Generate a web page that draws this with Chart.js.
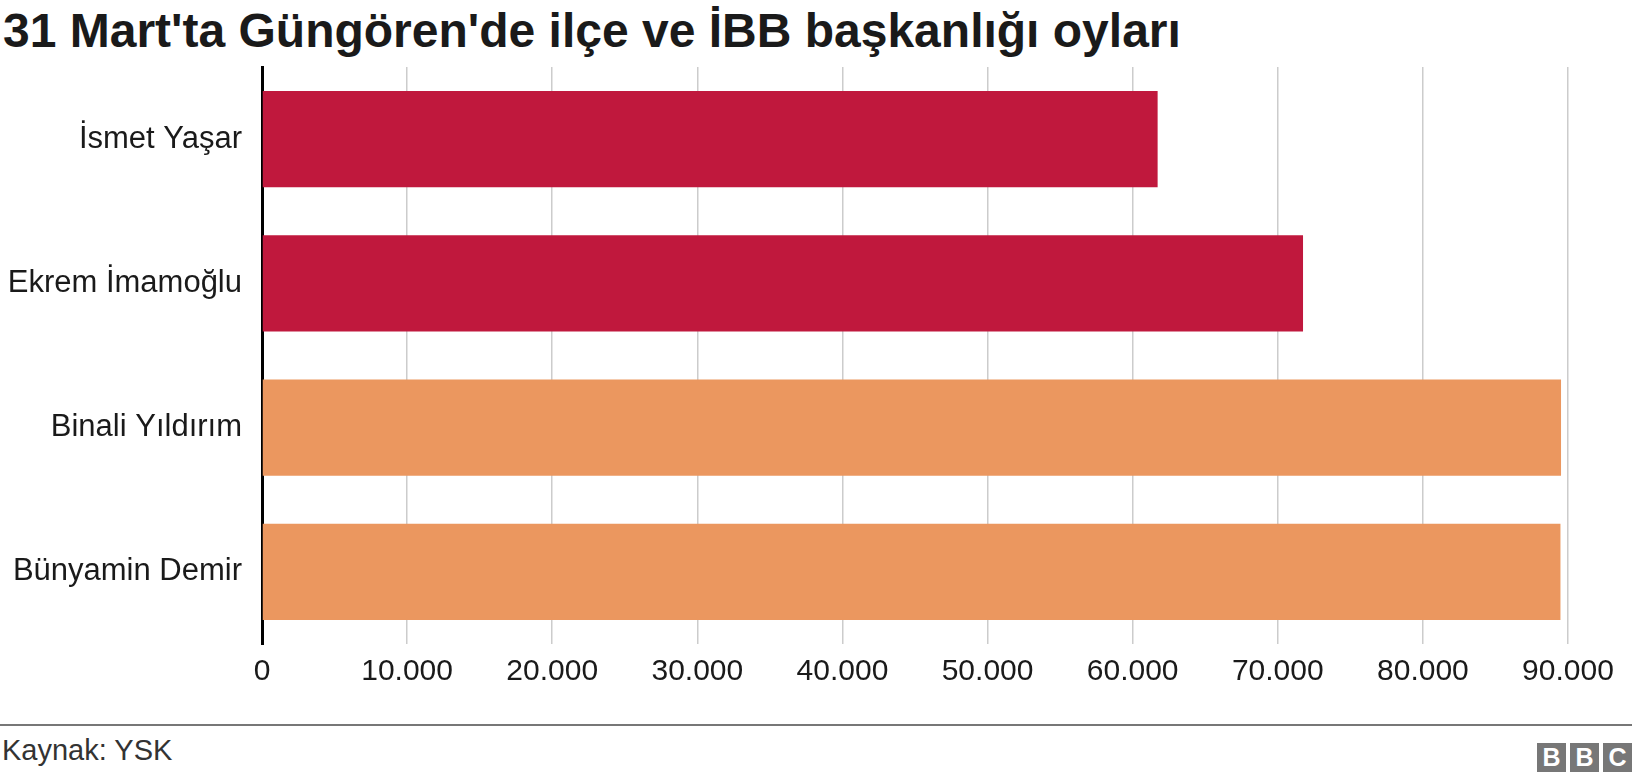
<!DOCTYPE html>
<html>
<head>
<meta charset="utf-8">
<script src="https://cdn.jsdelivr.net/npm/chart.js@4"></script>
<style>
  body { margin: 0; width: 1632px; height: 780px; background: #fff; font-family: "Liberation Sans", Arial, sans-serif; position: relative; overflow: hidden; }
  #title { position: absolute; left: 3px; top: 3px; font-size: 48px; font-weight: bold; color: #1a1a1a; }
  #wrap { position: absolute; left: 0; top: 0; width: 1632px; height: 700px; }
  #rule { position: absolute; left: 0; top: 724px; width: 1632px; height: 2px; background: #777; }
  #source { position: absolute; left: 2px; top: 734px; font-size: 29px; color: #333; }
  #bbc { position: absolute; right: 0; top: 743px; display: flex; gap: 4px; }
  #bbc span { width: 29px; height: 29px; background: #777; color: #fff; font-weight: bold; font-size: 25px; display: flex; align-items: center; justify-content: center; }
</style>
</head>
<body>
<div id="title">31 Mart'ta Güngören'de ilçe ve İBB başkanlığı oyları</div>
<div id="wrap"><canvas id="chart"></canvas></div>
<div id="rule"></div>
<div id="source">Kaynak: YSK</div>
<div id="bbc"><span>B</span><span>B</span><span>C</span></div>
<script>
  // Adaylar ve oy sayıları
  const adaylar = ["İsmet Yaşar", "Ekrem İmamoğlu", "Binali Yıldırım", "Bünyamin Demir"];
  const oylar = [61720, 71740, 89520, 89480];
  const renkler = ["#C0183D", "#C0183D", "#EB975F", "#EB975F"];
  const xTicks = [0, 10000, 20000, 30000, 40000, 50000, 60000, 70000, 80000, 90000];

  const ctx = document.getElementById('chart').getContext('2d');
  new Chart(ctx, {
    type: 'bar',
    data: {
      labels: adaylar,
      datasets: [{ data: oylar, backgroundColor: renkler, barPercentage: 0.668, categoryPercentage: 1 }]
    },
    options: {
      indexAxis: 'y',
      responsive: true,
      maintainAspectRatio: false,
      animation: false,
      layout: { padding: { top: 67, bottom: 0, left: 0, right: 64 } },
      plugins: { legend: { display: false }, tooltip: { enabled: false } },
      scales: {
        x: {
          min: 0, max: 90000,
          afterBuildTicks: (scale) => { scale.ticks = xTicks.map(v => ({ value: v })); },
          ticks: {
            color: '#1a1a1a', padding: 10, maxRotation: 0,
            font: { family: '"Liberation Sans", Arial', size: 30 },
            callback: v => Number(v).toLocaleString('de-DE')
          },
          grid: { color: '#cccccc', lineWidth: 1.5, drawTicks: false },
          border: { display: false }
        },
        y: {
          afterFit: (scale) => { scale.width = 262; },
          ticks: { color: '#1a1a1a', padding: 20, font: { family: '"Liberation Sans", Arial', size: 31 } },
          grid: { display: false, drawTicks: false },
          border: { color: '#000', width: 3 }
        }
      }
    }
  });
</script>
</body>
</html>
